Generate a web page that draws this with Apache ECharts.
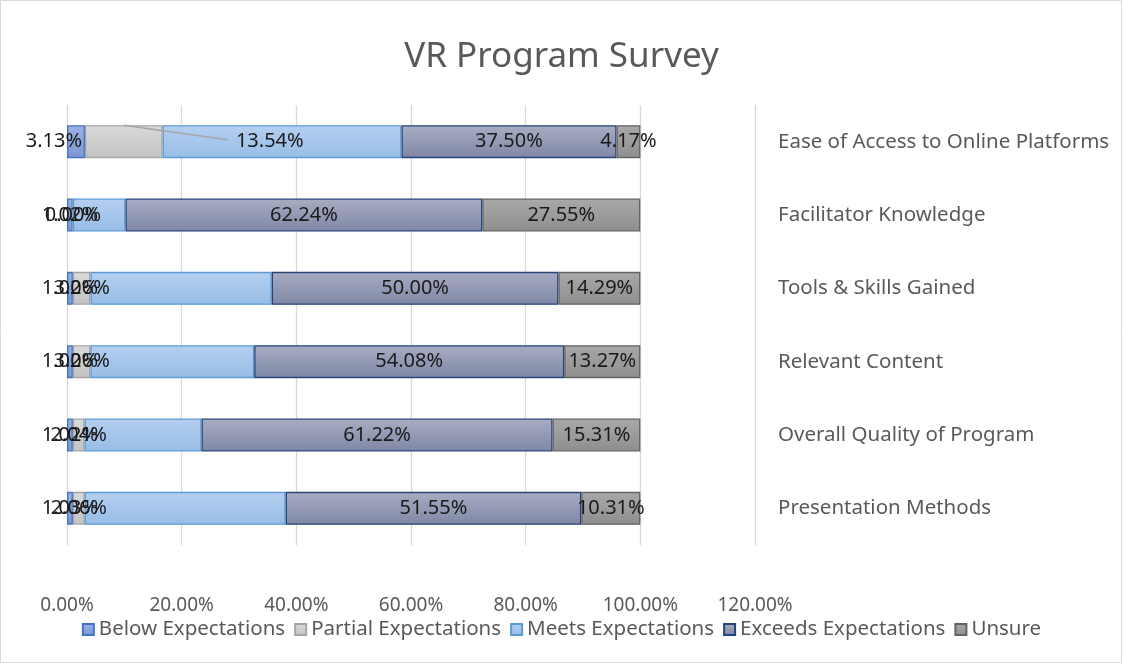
<!DOCTYPE html>
<html>
<head>
<meta charset="utf-8">
<script src="https://cdn.jsdelivr.net/npm/echarts@6/dist/echarts.min.js"></script>
<style>
html, body { margin: 0; padding: 0; background: #fff; }
#main { width: 1123px; height: 664px; }
</style>
</head>
<body>
<div id="main"></div>
<script>
var myChart = echarts.init(document.getElementById('main'));

// bottom to top, as the value axis stacks them
var categories = ['Presentation Methods', 'Overall Quality of Program', 'Relevant Content',
    'Tools & Skills Gained', 'Facilitator Knowledge', 'Ease of Access to Online Platforms'];

var below = [1.03, 1.02, 1.02, 1.02, 1.02, 3.13];
var partial = [2.06, 2.04, 3.06, 3.06, 0.00, 13.54];
var meets = [35.05, 20.41, 28.57, 31.63, 9.18, 41.67];
var exceeds = [51.55, 61.22, 54.08, 50.00, 62.24, 37.50];
var unsure = [10.31, 15.31, 13.27, 14.29, 27.55, 4.17];

var xTicks = [0, 20, 40, 60, 80, 100, 120];

var txt = '#595959';
var font = 'Noto Sans';
var barW = 33;
var movedLabelDx = 146;

function grad(top, bottom) {
    return new echarts.graphic.LinearGradient(0, 0, 0, 1, [
        { offset: 0, color: top },
        { offset: 1, color: bottom }
    ]);
}

function pct(p) {
    return p.value.toFixed(2) + '%';
}

function makeSeries(name, data, top, bottom, border, showLabel) {
    return {
        name: name,
        type: 'bar',
        stack: 'total',
        data: data,
        barWidth: barW,
        itemStyle: {
            color: grad(top, bottom),
            borderColor: border,
            borderWidth: 1.3
        },
        label: {
            show: showLabel,
            position: 'inside',
            formatter: pct,
            color: '#1a1a1a',
            fontSize: 20,
            fontFamily: font
        },
        emphasis: { disabled: true }
    };
}

var sBelow = makeSeries('Below Expectations', below, '#9bb3e2', '#7b97d4', '#4472c4', true);
sBelow.labelLayout = function (params) {
    if (params.dataIndex === 5) {
        return { dx: -22, dy: 0 };
    }
};

var sPartial = makeSeries('Partial Expectations', partial, '#d9d9d9', '#c3c3c3', '#a5a5a5', true);
// the 13.54% label was dragged off its bar in the original
sPartial.labelLayout = function (params) {
    if (params.dataIndex === 5) {
        return { dx: movedLabelDx, dy: 0 };
    }
};

option = {
    backgroundColor: '#fff',
    textStyle: { fontFamily: font },
    title: {
        text: 'VR Program Survey',
        left: 'center',
        top: 35,
        textStyle: {
            color: txt,
            fontSize: 35,
            fontWeight: 'normal',
            fontFamily: font
        }
    },
    legend: {
        bottom: 19,
        left: 'center',
        itemWidth: 11,
        itemHeight: 11,
        itemGap: 9,
        icon: 'rect',
        textStyle: { color: txt, fontSize: 20.5, fontFamily: font, padding: [0, 0, 0, 0] },
        data: ['Below Expectations', 'Partial Expectations', 'Meets Expectations', 'Exceeds Expectations', 'Unsure']
    },
    grid: {
        left: 67,
        right: 368,
        top: 105,
        bottom: 119
    },
    xAxis: {
        type: 'value',
        min: xTicks[0],
        max: xTicks[xTicks.length - 1],
        interval: xTicks[1] - xTicks[0],
        axisLine: { show: false },
        axisTick: { show: false },
        splitLine: { lineStyle: { color: '#d9d9d9', width: 1.3 } },
        axisLabel: {
            color: txt,
            fontSize: 19,
            fontFamily: font,
            margin: 51,
            formatter: function (v) { return v.toFixed(2) + '%'; }
        }
    },
    yAxis: {
        type: 'category',
        position: 'right',
        data: categories,
        axisLine: { show: false },
        axisTick: { show: false },
        axisLabel: {
            color: txt,
            fontSize: 20.5,
            fontFamily: font,
            margin: 23,
            align: 'left'
        }
    },
    series: [
        sBelow,
        sPartial,
        makeSeries('Meets Expectations', meets, '#b5cff0', '#97bde6', '#5b9bd5', false),
        makeSeries('Exceeds Expectations', exceeds, '#a8adc3', '#7f87a5', '#264478', true),
        makeSeries('Unsure', unsure, '#a9a9a9', '#8e8e8e', '#636363', true)
    ]
};
myChart.setOption(option);

// leader line from the partial bar to its moved label
var i = 5;
var midX = myChart.convertToPixel({ xAxisIndex: 0 }, below[i] + partial[i] / 2);
var rowY = myChart.convertToPixel({ yAxisIndex: 0 }, categories[i]);
var endX = midX + movedLabelDx - 42;
myChart.setOption({
    graphic: [{
        type: 'rect',
        shape: { x: 0.5, y: 0.5, width: 1121, height: 662 },
        style: { fill: 'none', stroke: '#d9d9d9', lineWidth: 1 },
        silent: true
    }, {
        type: 'polyline',
        shape: { points: [[midX, rowY - barW / 2], [endX, rowY - 2]] },
        style: { stroke: '#a6a6a6', lineWidth: 1.5, fill: 'none' },
        z: 10,
        silent: true
    }]
});
</script>
</body>
</html>
